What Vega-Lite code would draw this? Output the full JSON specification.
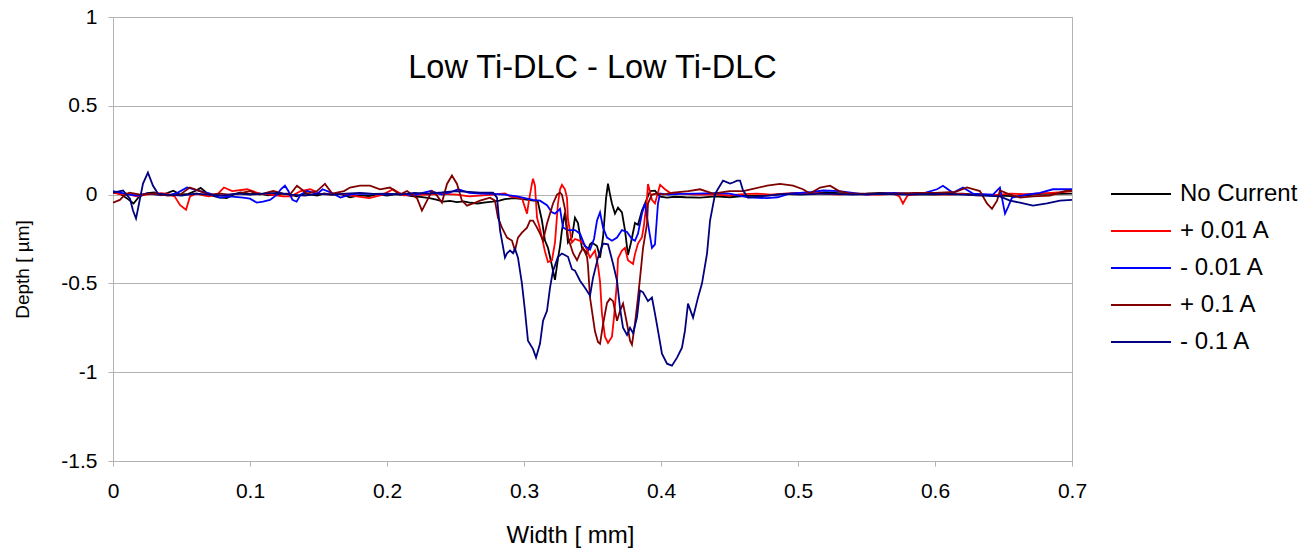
{
"$schema": "https://vega.github.io/schema/vega-lite/v6.json",
"width": 959, "height": 444,
"autosize": "none",
"padding": {"left": 113, "top": 17, "right": 241, "bottom": 92},
"background": "white",
"config": {
  "font": "Liberation Sans",
  "view": {"stroke": "#b3b3b3", "strokeWidth": 1},
  "locale": {"number": {"decimal": ".", "thousands": ",", "grouping": [3], "currency": ["$", ""], "minus": "-"}}
},
"title": {"text": "Low Ti-DLC - Low Ti-DLC", "fontSize": 32.5, "fontWeight": "normal", "font": "Liberation Sans", "color": "black", "anchor": "middle", "offset": -78},
"data": {"values": [
{"s":"No Current","x":0,"y":0.011},{"s":"No Current","x":0.005,"y":0.006},{"s":"No Current","x":0.01,"y":-0.02},{"s":"No Current","x":0.015,"y":-0.05},{"s":"No Current","x":0.019,"y":-0.012},{"s":"No Current","x":0.025,"y":0.008},{"s":"No Current","x":0.03,"y":0.012},{"s":"No Current","x":0.035,"y":-0.004},{"s":"No Current","x":0.04,"y":0.01},{"s":"No Current","x":0.044,"y":0.022},{"s":"No Current","x":0.049,"y":0.0},{"s":"No Current","x":0.055,"y":0.004},{"s":"No Current","x":0.06,"y":0.02},{"s":"No Current","x":0.064,"y":0.038},{"s":"No Current","x":0.068,"y":0.012},{"s":"No Current","x":0.073,"y":-0.008},{"s":"No Current","x":0.077,"y":-0.016},{"s":"No Current","x":0.083,"y":-0.02},{"s":"No Current","x":0.088,"y":0.0},{"s":"No Current","x":0.093,"y":0.012},{"s":"No Current","x":0.1,"y":0.002},{"s":"No Current","x":0.107,"y":0.007},{"s":"No Current","x":0.113,"y":-0.004},{"s":"No Current","x":0.12,"y":0.003},{"s":"No Current","x":0.127,"y":0.006},{"s":"No Current","x":0.134,"y":-0.01},{"s":"No Current","x":0.14,"y":0.005},{"s":"No Current","x":0.149,"y":-0.006},{"s":"No Current","x":0.154,"y":0.006},{"s":"No Current","x":0.16,"y":0.0},{"s":"No Current","x":0.166,"y":0.004},{"s":"No Current","x":0.173,"y":-0.015},{"s":"No Current","x":0.18,"y":-0.004},{"s":"No Current","x":0.187,"y":-0.008},{"s":"No Current","x":0.193,"y":0.002},{"s":"No Current","x":0.2,"y":-0.006},{"s":"No Current","x":0.207,"y":0.003},{"s":"No Current","x":0.212,"y":0.0},{"s":"No Current","x":0.218,"y":-0.008},{"s":"No Current","x":0.223,"y":-0.012},{"s":"No Current","x":0.231,"y":-0.02},{"s":"No Current","x":0.236,"y":-0.028},{"s":"No Current","x":0.241,"y":-0.04},{"s":"No Current","x":0.246,"y":-0.035},{"s":"No Current","x":0.251,"y":-0.042},{"s":"No Current","x":0.256,"y":-0.038},{"s":"No Current","x":0.261,"y":-0.046},{"s":"No Current","x":0.266,"y":-0.05},{"s":"No Current","x":0.272,"y":-0.044},{"s":"No Current","x":0.277,"y":-0.04},{"s":"No Current","x":0.282,"y":-0.034},{"s":"No Current","x":0.286,"y":-0.026},{"s":"No Current","x":0.292,"y":-0.02},{"s":"No Current","x":0.296,"y":-0.022},{"s":"No Current","x":0.299,"y":-0.026},{"s":"No Current","x":0.303,"y":-0.03},{"s":"No Current","x":0.307,"y":-0.034},{"s":"No Current","x":0.31,"y":-0.036},{"s":"No Current","x":0.3131,"y":-0.146},{"s":"No Current","x":0.3153,"y":-0.259},{"s":"No Current","x":0.3175,"y":-0.3},{"s":"No Current","x":0.3204,"y":-0.4},{"s":"No Current","x":0.3226,"y":-0.48},{"s":"No Current","x":0.3248,"y":-0.36},{"s":"No Current","x":0.3263,"y":-0.29},{"s":"No Current","x":0.3277,"y":-0.2},{"s":"No Current","x":0.3299,"y":-0.1},{"s":"No Current","x":0.3321,"y":-0.27},{"s":"No Current","x":0.335,"y":-0.24},{"s":"No Current","x":0.3372,"y":-0.13},{"s":"No Current","x":0.3394,"y":-0.16},{"s":"No Current","x":0.3423,"y":-0.3},{"s":"No Current","x":0.346,"y":-0.33},{"s":"No Current","x":0.3482,"y":-0.28},{"s":"No Current","x":0.3496,"y":-0.27},{"s":"No Current","x":0.3533,"y":-0.29},{"s":"No Current","x":0.3555,"y":-0.355},{"s":"No Current","x":0.3577,"y":-0.24},{"s":"No Current","x":0.3599,"y":-0.02},{"s":"No Current","x":0.3613,"y":0.062},{"s":"No Current","x":0.3628,"y":0.0},{"s":"No Current","x":0.3642,"y":-0.05},{"s":"No Current","x":0.3664,"y":-0.107},{"s":"No Current","x":0.3686,"y":-0.073},{"s":"No Current","x":0.3715,"y":-0.1},{"s":"No Current","x":0.3737,"y":-0.2},{"s":"No Current","x":0.3759,"y":-0.34},{"s":"No Current","x":0.3781,"y":-0.27},{"s":"No Current","x":0.381,"y":-0.16},{"s":"No Current","x":0.3832,"y":-0.17},{"s":"No Current","x":0.3861,"y":-0.09},{"s":"No Current","x":0.3883,"y":-0.05},{"s":"No Current","x":0.392,"y":0.02},{"s":"No Current","x":0.3956,"y":0.022},{"s":"No Current","x":0.3993,"y":-0.012},{"s":"No Current","x":0.4044,"y":-0.017},{"s":"No Current","x":0.41,"y":-0.012},{"s":"No Current","x":0.418,"y":-0.015},{"s":"No Current","x":0.4285,"y":-0.017},{"s":"No Current","x":0.44,"y":-0.01},{"s":"No Current","x":0.45,"y":-0.015},{"s":"No Current","x":0.46,"y":-0.008},{"s":"No Current","x":0.4774,"y":-0.006},{"s":"No Current","x":0.49,"y":0.004},{"s":"No Current","x":0.5015,"y":0.01},{"s":"No Current","x":0.51,"y":0.006},{"s":"No Current","x":0.52,"y":0.012},{"s":"No Current","x":0.53,"y":0.008},{"s":"No Current","x":0.54,"y":0.004},{"s":"No Current","x":0.55,"y":0.006},{"s":"No Current","x":0.56,"y":0.01},{"s":"No Current","x":0.5745,"y":0.006},{"s":"No Current","x":0.585,"y":0.002},{"s":"No Current","x":0.6,"y":0.0},{"s":"No Current","x":0.61,"y":0.004},{"s":"No Current","x":0.62,"y":0.005},{"s":"No Current","x":0.63,"y":0.0},{"s":"No Current","x":0.6474,"y":-0.006},{"s":"No Current","x":0.66,"y":-0.01},{"s":"No Current","x":0.67,"y":-0.002},{"s":"No Current","x":0.68,"y":0.005},{"s":"No Current","x":0.69,"y":0.004},{"s":"No Current","x":0.7,"y":0.006},

{"s":"+ 0.01 A","x":0,"y":0.011},{"s":"+ 0.01 A","x":0.006,"y":0.0},{"s":"+ 0.01 A","x":0.01,"y":0.006},{"s":"+ 0.01 A","x":0.017,"y":-0.01},{"s":"+ 0.01 A","x":0.024,"y":0.0},{"s":"+ 0.01 A","x":0.03,"y":0.006},{"s":"+ 0.01 A","x":0.035,"y":0.008},{"s":"+ 0.01 A","x":0.04,"y":0.004},{"s":"+ 0.01 A","x":0.045,"y":-0.01},{"s":"+ 0.01 A","x":0.049,"y":-0.06},{"s":"+ 0.01 A","x":0.0533,"y":-0.085},{"s":"+ 0.01 A","x":0.0562,"y":-0.01},{"s":"+ 0.01 A","x":0.061,"y":0.006},{"s":"+ 0.01 A","x":0.066,"y":-0.005},{"s":"+ 0.01 A","x":0.07,"y":-0.01},{"s":"+ 0.01 A","x":0.076,"y":0.0},{"s":"+ 0.01 A","x":0.081,"y":0.04},{"s":"+ 0.01 A","x":0.087,"y":0.02},{"s":"+ 0.01 A","x":0.098,"y":0.03},{"s":"+ 0.01 A","x":0.107,"y":0.006},{"s":"+ 0.01 A","x":0.115,"y":0.0},{"s":"+ 0.01 A","x":0.124,"y":-0.01},{"s":"+ 0.01 A","x":0.13,"y":-0.01},{"s":"+ 0.01 A","x":0.137,"y":0.02},{"s":"+ 0.01 A","x":0.144,"y":0.03},{"s":"+ 0.01 A","x":0.151,"y":0.006},{"s":"+ 0.01 A","x":0.16,"y":0.0},{"s":"+ 0.01 A","x":0.166,"y":0.004},{"s":"+ 0.01 A","x":0.178,"y":-0.01},{"s":"+ 0.01 A","x":0.187,"y":-0.02},{"s":"+ 0.01 A","x":0.197,"y":0.0},{"s":"+ 0.01 A","x":0.2044,"y":0.03},{"s":"+ 0.01 A","x":0.212,"y":-0.004},{"s":"+ 0.01 A","x":0.222,"y":-0.002},{"s":"+ 0.01 A","x":0.231,"y":0.0},{"s":"+ 0.01 A","x":0.239,"y":0.006},{"s":"+ 0.01 A","x":0.251,"y":0.0},{"s":"+ 0.01 A","x":0.26,"y":-0.01},{"s":"+ 0.01 A","x":0.27,"y":-0.004},{"s":"+ 0.01 A","x":0.2774,"y":0.0},{"s":"+ 0.01 A","x":0.2861,"y":0.006},{"s":"+ 0.01 A","x":0.2898,"y":-0.01},{"s":"+ 0.01 A","x":0.2949,"y":-0.017},{"s":"+ 0.01 A","x":0.2985,"y":-0.02},{"s":"+ 0.01 A","x":0.3022,"y":-0.107},{"s":"+ 0.01 A","x":0.3036,"y":-0.034},{"s":"+ 0.01 A","x":0.3058,"y":0.062},{"s":"+ 0.01 A","x":0.3066,"y":0.09},{"s":"+ 0.01 A","x":0.308,"y":0.05},{"s":"+ 0.01 A","x":0.3095,"y":-0.13},{"s":"+ 0.01 A","x":0.3109,"y":-0.17},{"s":"+ 0.01 A","x":0.3131,"y":-0.24},{"s":"+ 0.01 A","x":0.3153,"y":-0.32},{"s":"+ 0.01 A","x":0.3175,"y":-0.38},{"s":"+ 0.01 A","x":0.3204,"y":-0.37},{"s":"+ 0.01 A","x":0.3226,"y":-0.27},{"s":"+ 0.01 A","x":0.3248,"y":-0.05},{"s":"+ 0.01 A","x":0.3263,"y":0.03},{"s":"+ 0.01 A","x":0.3277,"y":0.055},{"s":"+ 0.01 A","x":0.3299,"y":0.03},{"s":"+ 0.01 A","x":0.3314,"y":-0.02},{"s":"+ 0.01 A","x":0.3321,"y":-0.14},{"s":"+ 0.01 A","x":0.335,"y":-0.27},{"s":"+ 0.01 A","x":0.3372,"y":-0.25},{"s":"+ 0.01 A","x":0.3409,"y":-0.26},{"s":"+ 0.01 A","x":0.3445,"y":-0.285},{"s":"+ 0.01 A","x":0.3482,"y":-0.355},{"s":"+ 0.01 A","x":0.3518,"y":-0.315},{"s":"+ 0.01 A","x":0.354,"y":-0.4},{"s":"+ 0.01 A","x":0.3555,"y":-0.49},{"s":"+ 0.01 A","x":0.3569,"y":-0.67},{"s":"+ 0.01 A","x":0.3591,"y":-0.8},{"s":"+ 0.01 A","x":0.3613,"y":-0.835},{"s":"+ 0.01 A","x":0.3642,"y":-0.8},{"s":"+ 0.01 A","x":0.3657,"y":-0.69},{"s":"+ 0.01 A","x":0.3679,"y":-0.49},{"s":"+ 0.01 A","x":0.3686,"y":-0.36},{"s":"+ 0.01 A","x":0.3715,"y":-0.315},{"s":"+ 0.01 A","x":0.3737,"y":-0.3},{"s":"+ 0.01 A","x":0.3759,"y":-0.37},{"s":"+ 0.01 A","x":0.3796,"y":-0.39},{"s":"+ 0.01 A","x":0.381,"y":-0.335},{"s":"+ 0.01 A","x":0.3832,"y":-0.276},{"s":"+ 0.01 A","x":0.3861,"y":-0.24},{"s":"+ 0.01 A","x":0.3876,"y":-0.17},{"s":"+ 0.01 A","x":0.3898,"y":-0.02},{"s":"+ 0.01 A","x":0.3905,"y":0.06},{"s":"+ 0.01 A","x":0.3934,"y":-0.03},{"s":"+ 0.01 A","x":0.3956,"y":-0.05},{"s":"+ 0.01 A","x":0.3993,"y":0.055},{"s":"+ 0.01 A","x":0.4029,"y":0.03},{"s":"+ 0.01 A","x":0.4066,"y":0.01},{"s":"+ 0.01 A","x":0.414,"y":0.006},{"s":"+ 0.01 A","x":0.425,"y":0.0},{"s":"+ 0.01 A","x":0.44,"y":0.0},{"s":"+ 0.01 A","x":0.45,"y":-0.005},{"s":"+ 0.01 A","x":0.46,"y":0.003},{"s":"+ 0.01 A","x":0.47,"y":0.006},{"s":"+ 0.01 A","x":0.48,"y":0.0},{"s":"+ 0.01 A","x":0.49,"y":0.005},{"s":"+ 0.01 A","x":0.5,"y":0.008},{"s":"+ 0.01 A","x":0.51,"y":0.01},{"s":"+ 0.01 A","x":0.52,"y":0.004},{"s":"+ 0.01 A","x":0.53,"y":0.0},{"s":"+ 0.01 A","x":0.54,"y":0.005},{"s":"+ 0.01 A","x":0.55,"y":0.0},{"s":"+ 0.01 A","x":0.56,"y":0.0},{"s":"+ 0.01 A","x":0.57,"y":0.004},{"s":"+ 0.01 A","x":0.574,"y":-0.01},{"s":"+ 0.01 A","x":0.5766,"y":-0.05},{"s":"+ 0.01 A","x":0.58,"y":-0.004},{"s":"+ 0.01 A","x":0.59,"y":0.004},{"s":"+ 0.01 A","x":0.6,"y":0.002},{"s":"+ 0.01 A","x":0.61,"y":0.0},{"s":"+ 0.01 A","x":0.62,"y":0.004},{"s":"+ 0.01 A","x":0.63,"y":-0.004},{"s":"+ 0.01 A","x":0.645,"y":-0.002},{"s":"+ 0.01 A","x":0.655,"y":0.006},{"s":"+ 0.01 A","x":0.665,"y":0.002},{"s":"+ 0.01 A","x":0.675,"y":0.006},{"s":"+ 0.01 A","x":0.685,"y":0.01},{"s":"+ 0.01 A","x":0.695,"y":0.015},{"s":"+ 0.01 A","x":0.7,"y":0.02},

{"s":"- 0.01 A","x":0,"y":0.02},{"s":"- 0.01 A","x":0.006,"y":0.01},{"s":"- 0.01 A","x":0.012,"y":0.0},{"s":"- 0.01 A","x":0.018,"y":-0.005},{"s":"- 0.01 A","x":0.025,"y":0.006},{"s":"- 0.01 A","x":0.032,"y":0.0},{"s":"- 0.01 A","x":0.04,"y":-0.004},{"s":"- 0.01 A","x":0.047,"y":0.01},{"s":"- 0.01 A","x":0.054,"y":0.04},{"s":"- 0.01 A","x":0.0635,"y":0.02},{"s":"- 0.01 A","x":0.0708,"y":0.006},{"s":"- 0.01 A","x":0.078,"y":-0.017},{"s":"- 0.01 A","x":0.0854,"y":-0.01},{"s":"- 0.01 A","x":0.0949,"y":-0.017},{"s":"- 0.01 A","x":0.1,"y":-0.023},{"s":"- 0.01 A","x":0.105,"y":-0.045},{"s":"- 0.01 A","x":0.1095,"y":-0.04},{"s":"- 0.01 A","x":0.1146,"y":-0.03},{"s":"- 0.01 A","x":0.1197,"y":0.0},{"s":"- 0.01 A","x":0.1225,"y":0.03},{"s":"- 0.01 A","x":0.1255,"y":0.05},{"s":"- 0.01 A","x":0.128,"y":0.02},{"s":"- 0.01 A","x":0.131,"y":-0.03},{"s":"- 0.01 A","x":0.134,"y":-0.04},{"s":"- 0.01 A","x":0.137,"y":0.0},{"s":"- 0.01 A","x":0.1416,"y":0.02},{"s":"- 0.01 A","x":0.149,"y":0.004},{"s":"- 0.01 A","x":0.153,"y":0.03},{"s":"- 0.01 A","x":0.16,"y":0.008},{"s":"- 0.01 A","x":0.166,"y":-0.017},{"s":"- 0.01 A","x":0.173,"y":0.0},{"s":"- 0.01 A","x":0.18,"y":0.006},{"s":"- 0.01 A","x":0.19,"y":0.004},{"s":"- 0.01 A","x":0.2,"y":0.0},{"s":"- 0.01 A","x":0.21,"y":0.006},{"s":"- 0.01 A","x":0.22,"y":-0.004},{"s":"- 0.01 A","x":0.226,"y":0.01},{"s":"- 0.01 A","x":0.232,"y":0.02},{"s":"- 0.01 A","x":0.24,"y":0.0},{"s":"- 0.01 A","x":0.246,"y":0.012},{"s":"- 0.01 A","x":0.252,"y":0.03},{"s":"- 0.01 A","x":0.26,"y":0.01},{"s":"- 0.01 A","x":0.268,"y":0.006},{"s":"- 0.01 A","x":0.2774,"y":0.004},{"s":"- 0.01 A","x":0.2861,"y":0.0},{"s":"- 0.01 A","x":0.2949,"y":-0.01},{"s":"- 0.01 A","x":0.3007,"y":-0.02},{"s":"- 0.01 A","x":0.3066,"y":-0.03},{"s":"- 0.01 A","x":0.3117,"y":-0.034},{"s":"- 0.01 A","x":0.3168,"y":-0.06},{"s":"- 0.01 A","x":0.3204,"y":-0.1},{"s":"- 0.01 A","x":0.3226,"y":-0.107},{"s":"- 0.01 A","x":0.3263,"y":-0.08},{"s":"- 0.01 A","x":0.3285,"y":-0.186},{"s":"- 0.01 A","x":0.3321,"y":-0.2},{"s":"- 0.01 A","x":0.3372,"y":-0.2},{"s":"- 0.01 A","x":0.3409,"y":-0.22},{"s":"- 0.01 A","x":0.3445,"y":-0.29},{"s":"- 0.01 A","x":0.3482,"y":-0.31},{"s":"- 0.01 A","x":0.3511,"y":-0.25},{"s":"- 0.01 A","x":0.3533,"y":-0.146},{"s":"- 0.01 A","x":0.3555,"y":-0.1},{"s":"- 0.01 A","x":0.3577,"y":-0.186},{"s":"- 0.01 A","x":0.3606,"y":-0.242},{"s":"- 0.01 A","x":0.3642,"y":-0.26},{"s":"- 0.01 A","x":0.3679,"y":-0.242},{"s":"- 0.01 A","x":0.3715,"y":-0.2},{"s":"- 0.01 A","x":0.3752,"y":-0.21},{"s":"- 0.01 A","x":0.3788,"y":-0.25},{"s":"- 0.01 A","x":0.381,"y":-0.26},{"s":"- 0.01 A","x":0.3832,"y":-0.22},{"s":"- 0.01 A","x":0.3861,"y":-0.107},{"s":"- 0.01 A","x":0.3883,"y":-0.05},{"s":"- 0.01 A","x":0.3905,"y":-0.163},{"s":"- 0.01 A","x":0.3934,"y":-0.3},{"s":"- 0.01 A","x":0.3956,"y":-0.28},{"s":"- 0.01 A","x":0.3978,"y":-0.05},{"s":"- 0.01 A","x":0.3993,"y":0.006},{"s":"- 0.01 A","x":0.405,"y":0.0},{"s":"- 0.01 A","x":0.414,"y":0.004},{"s":"- 0.01 A","x":0.425,"y":0.006},{"s":"- 0.01 A","x":0.44,"y":0.008},{"s":"- 0.01 A","x":0.45,"y":0.005},{"s":"- 0.01 A","x":0.4635,"y":-0.015},{"s":"- 0.01 A","x":0.4774,"y":-0.02},{"s":"- 0.01 A","x":0.485,"y":-0.015},{"s":"- 0.01 A","x":0.494,"y":0.005},{"s":"- 0.01 A","x":0.5015,"y":0.01},{"s":"- 0.01 A","x":0.51,"y":0.015},{"s":"- 0.01 A","x":0.5186,"y":0.023},{"s":"- 0.01 A","x":0.53,"y":0.02},{"s":"- 0.01 A","x":0.54,"y":0.01},{"s":"- 0.01 A","x":0.55,"y":0.0},{"s":"- 0.01 A","x":0.56,"y":0.006},{"s":"- 0.01 A","x":0.57,"y":0.01},{"s":"- 0.01 A","x":0.58,"y":0.006},{"s":"- 0.01 A","x":0.59,"y":0.004},{"s":"- 0.01 A","x":0.6015,"y":0.03},{"s":"- 0.01 A","x":0.6058,"y":0.05},{"s":"- 0.01 A","x":0.6131,"y":0.01},{"s":"- 0.01 A","x":0.6204,"y":0.04},{"s":"- 0.01 A","x":0.6277,"y":0.006},{"s":"- 0.01 A","x":0.6423,"y":0.0},{"s":"- 0.01 A","x":0.6474,"y":0.04},{"s":"- 0.01 A","x":0.6511,"y":-0.107},{"s":"- 0.01 A","x":0.6533,"y":-0.07},{"s":"- 0.01 A","x":0.6562,"y":-0.017},{"s":"- 0.01 A","x":0.6672,"y":0.0},{"s":"- 0.01 A","x":0.6766,"y":0.01},{"s":"- 0.01 A","x":0.6861,"y":0.03},{"s":"- 0.01 A","x":0.6964,"y":0.03},{"s":"- 0.01 A","x":0.7,"y":0.03},

{"s":"+ 0.1 A","x":0,"y":-0.045},{"s":"+ 0.1 A","x":0.005,"y":-0.03},{"s":"+ 0.1 A","x":0.008,"y":-0.006},{"s":"+ 0.1 A","x":0.012,"y":0.011},{"s":"+ 0.1 A","x":0.02,"y":0.0},{"s":"+ 0.1 A","x":0.027,"y":0.006},{"s":"+ 0.1 A","x":0.034,"y":0.0},{"s":"+ 0.1 A","x":0.041,"y":-0.006},{"s":"+ 0.1 A","x":0.049,"y":0.0},{"s":"+ 0.1 A","x":0.056,"y":0.04},{"s":"+ 0.1 A","x":0.0635,"y":0.02},{"s":"+ 0.1 A","x":0.07,"y":0.0},{"s":"+ 0.1 A","x":0.078,"y":0.006},{"s":"+ 0.1 A","x":0.085,"y":0.0},{"s":"+ 0.1 A","x":0.092,"y":0.006},{"s":"+ 0.1 A","x":0.1,"y":0.02},{"s":"+ 0.1 A","x":0.107,"y":0.0},{"s":"+ 0.1 A","x":0.117,"y":0.02},{"s":"+ 0.1 A","x":0.124,"y":0.006},{"s":"+ 0.1 A","x":0.1292,"y":0.0},{"s":"+ 0.1 A","x":0.1343,"y":0.05},{"s":"+ 0.1 A","x":0.1416,"y":0.006},{"s":"+ 0.1 A","x":0.1489,"y":0.02},{"s":"+ 0.1 A","x":0.1547,"y":0.06},{"s":"+ 0.1 A","x":0.16,"y":0.006},{"s":"+ 0.1 A","x":0.1686,"y":0.02},{"s":"+ 0.1 A","x":0.173,"y":0.04},{"s":"+ 0.1 A","x":0.1803,"y":0.05},{"s":"+ 0.1 A","x":0.1876,"y":0.05},{"s":"+ 0.1 A","x":0.1949,"y":0.03},{"s":"+ 0.1 A","x":0.2022,"y":0.04},{"s":"+ 0.1 A","x":0.2095,"y":0.0},{"s":"+ 0.1 A","x":0.2146,"y":0.02},{"s":"+ 0.1 A","x":0.2219,"y":-0.02},{"s":"+ 0.1 A","x":0.2255,"y":-0.09},{"s":"+ 0.1 A","x":0.2292,"y":-0.034},{"s":"+ 0.1 A","x":0.2328,"y":0.02},{"s":"+ 0.1 A","x":0.2365,"y":-0.006},{"s":"+ 0.1 A","x":0.2401,"y":-0.045},{"s":"+ 0.1 A","x":0.2438,"y":0.06},{"s":"+ 0.1 A","x":0.2474,"y":0.107},{"s":"+ 0.1 A","x":0.2511,"y":0.06},{"s":"+ 0.1 A","x":0.2547,"y":-0.034},{"s":"+ 0.1 A","x":0.2584,"y":-0.062},{"s":"+ 0.1 A","x":0.2628,"y":-0.05},{"s":"+ 0.1 A","x":0.2679,"y":-0.034},{"s":"+ 0.1 A","x":0.2752,"y":-0.017},{"s":"+ 0.1 A","x":0.2788,"y":-0.034},{"s":"+ 0.1 A","x":0.281,"y":-0.13},{"s":"+ 0.1 A","x":0.2839,"y":-0.186},{"s":"+ 0.1 A","x":0.2876,"y":-0.242},{"s":"+ 0.1 A","x":0.2912,"y":-0.259},{"s":"+ 0.1 A","x":0.2934,"y":-0.315},{"s":"+ 0.1 A","x":0.2956,"y":-0.242},{"s":"+ 0.1 A","x":0.2985,"y":-0.214},{"s":"+ 0.1 A","x":0.3022,"y":-0.186},{"s":"+ 0.1 A","x":0.3044,"y":-0.146},{"s":"+ 0.1 A","x":0.3066,"y":-0.146},{"s":"+ 0.1 A","x":0.3095,"y":-0.186},{"s":"+ 0.1 A","x":0.3117,"y":-0.22},{"s":"+ 0.1 A","x":0.3139,"y":-0.259},{"s":"+ 0.1 A","x":0.3168,"y":-0.163},{"s":"+ 0.1 A","x":0.319,"y":-0.107},{"s":"+ 0.1 A","x":0.3212,"y":-0.05},{"s":"+ 0.1 A","x":0.3241,"y":0.0},{"s":"+ 0.1 A","x":0.3263,"y":0.011},{"s":"+ 0.1 A","x":0.3277,"y":0.0},{"s":"+ 0.1 A","x":0.3299,"y":-0.08},{"s":"+ 0.1 A","x":0.3321,"y":-0.24},{"s":"+ 0.1 A","x":0.3358,"y":-0.33},{"s":"+ 0.1 A","x":0.3387,"y":-0.37},{"s":"+ 0.1 A","x":0.3409,"y":-0.33},{"s":"+ 0.1 A","x":0.3431,"y":-0.3},{"s":"+ 0.1 A","x":0.346,"y":-0.35},{"s":"+ 0.1 A","x":0.3467,"y":-0.4},{"s":"+ 0.1 A","x":0.3482,"y":-0.58},{"s":"+ 0.1 A","x":0.3518,"y":-0.77},{"s":"+ 0.1 A","x":0.354,"y":-0.83},{"s":"+ 0.1 A","x":0.3555,"y":-0.84},{"s":"+ 0.1 A","x":0.3577,"y":-0.73},{"s":"+ 0.1 A","x":0.3606,"y":-0.61},{"s":"+ 0.1 A","x":0.3628,"y":-0.586},{"s":"+ 0.1 A","x":0.365,"y":-0.6},{"s":"+ 0.1 A","x":0.3679,"y":-0.71},{"s":"+ 0.1 A","x":0.3701,"y":-0.654},{"s":"+ 0.1 A","x":0.3723,"y":-0.614},{"s":"+ 0.1 A","x":0.3752,"y":-0.727},{"s":"+ 0.1 A","x":0.3774,"y":-0.823},{"s":"+ 0.1 A","x":0.3788,"y":-0.845},{"s":"+ 0.1 A","x":0.381,"y":-0.727},{"s":"+ 0.1 A","x":0.3832,"y":-0.58},{"s":"+ 0.1 A","x":0.3847,"y":-0.47},{"s":"+ 0.1 A","x":0.3869,"y":-0.3},{"s":"+ 0.1 A","x":0.3898,"y":-0.163},{"s":"+ 0.1 A","x":0.3905,"y":-0.05},{"s":"+ 0.1 A","x":0.3934,"y":0.0},{"s":"+ 0.1 A","x":0.3971,"y":0.006},{"s":"+ 0.1 A","x":0.4015,"y":0.0},{"s":"+ 0.1 A","x":0.4088,"y":0.011},{"s":"+ 0.1 A","x":0.42,"y":0.02},{"s":"+ 0.1 A","x":0.4285,"y":0.03},{"s":"+ 0.1 A","x":0.438,"y":0.006},{"s":"+ 0.1 A","x":0.45,"y":0.02},{"s":"+ 0.1 A","x":0.46,"y":0.02},{"s":"+ 0.1 A","x":0.4774,"y":0.05},{"s":"+ 0.1 A","x":0.4869,"y":0.06},{"s":"+ 0.1 A","x":0.4964,"y":0.05},{"s":"+ 0.1 A","x":0.5036,"y":0.03},{"s":"+ 0.1 A","x":0.5088,"y":0.006},{"s":"+ 0.1 A","x":0.5161,"y":0.04},{"s":"+ 0.1 A","x":0.5234,"y":0.05},{"s":"+ 0.1 A","x":0.53,"y":0.02},{"s":"+ 0.1 A","x":0.538,"y":0.006},{"s":"+ 0.1 A","x":0.55,"y":0.006},{"s":"+ 0.1 A","x":0.5547,"y":0.006},{"s":"+ 0.1 A","x":0.5693,"y":0.006},{"s":"+ 0.1 A","x":0.585,"y":0.01},{"s":"+ 0.1 A","x":0.6,"y":0.01},{"s":"+ 0.1 A","x":0.615,"y":0.015},{"s":"+ 0.1 A","x":0.6234,"y":0.04},{"s":"+ 0.1 A","x":0.6328,"y":0.02},{"s":"+ 0.1 A","x":0.6379,"y":-0.05},{"s":"+ 0.1 A","x":0.6416,"y":-0.08},{"s":"+ 0.1 A","x":0.6453,"y":-0.034},{"s":"+ 0.1 A","x":0.6474,"y":0.023},{"s":"+ 0.1 A","x":0.6547,"y":0.0},{"s":"+ 0.1 A","x":0.662,"y":-0.017},{"s":"+ 0.1 A","x":0.6715,"y":-0.01},{"s":"+ 0.1 A","x":0.6839,"y":-0.006},{"s":"+ 0.1 A","x":0.6964,"y":0.023},{"s":"+ 0.1 A","x":0.7,"y":0.02},

{"s":"- 0.1 A","x":0,"y":0.011},{"s":"- 0.1 A","x":0.0073,"y":0.023},{"s":"- 0.1 A","x":0.0124,"y":-0.023},{"s":"- 0.1 A","x":0.0146,"y":-0.09},{"s":"- 0.1 A","x":0.0168,"y":-0.135},{"s":"- 0.1 A","x":0.019,"y":-0.05},{"s":"- 0.1 A","x":0.0219,"y":0.062},{"s":"- 0.1 A","x":0.0255,"y":0.124},{"s":"- 0.1 A","x":0.0292,"y":0.05},{"s":"- 0.1 A","x":0.0328,"y":0.006},{"s":"- 0.1 A","x":0.04,"y":0.0},{"s":"- 0.1 A","x":0.05,"y":-0.006},{"s":"- 0.1 A","x":0.06,"y":0.006},{"s":"- 0.1 A","x":0.07,"y":0.0},{"s":"- 0.1 A","x":0.08,"y":-0.006},{"s":"- 0.1 A","x":0.09,"y":0.006},{"s":"- 0.1 A","x":0.1,"y":0.0},{"s":"- 0.1 A","x":0.11,"y":0.006},{"s":"- 0.1 A","x":0.12,"y":0.01},{"s":"- 0.1 A","x":0.13,"y":0.0},{"s":"- 0.1 A","x":0.14,"y":-0.006},{"s":"- 0.1 A","x":0.15,"y":0.004},{"s":"- 0.1 A","x":0.16,"y":0.0},{"s":"- 0.1 A","x":0.17,"y":0.006},{"s":"- 0.1 A","x":0.18,"y":0.01},{"s":"- 0.1 A","x":0.19,"y":0.004},{"s":"- 0.1 A","x":0.2,"y":0.006},{"s":"- 0.1 A","x":0.21,"y":0.0},{"s":"- 0.1 A","x":0.22,"y":0.01},{"s":"- 0.1 A","x":0.23,"y":0.006},{"s":"- 0.1 A","x":0.24,"y":0.012},{"s":"- 0.1 A","x":0.25,"y":0.02},{"s":"- 0.1 A","x":0.26,"y":0.015},{"s":"- 0.1 A","x":0.2679,"y":0.011},{"s":"- 0.1 A","x":0.2774,"y":0.011},{"s":"- 0.1 A","x":0.2803,"y":-0.017},{"s":"- 0.1 A","x":0.2825,"y":-0.2},{"s":"- 0.1 A","x":0.2861,"y":-0.355},{"s":"- 0.1 A","x":0.2876,"y":-0.33},{"s":"- 0.1 A","x":0.2898,"y":-0.315},{"s":"- 0.1 A","x":0.292,"y":-0.33},{"s":"- 0.1 A","x":0.2934,"y":-0.304},{"s":"- 0.1 A","x":0.2956,"y":-0.355},{"s":"- 0.1 A","x":0.2985,"y":-0.501},{"s":"- 0.1 A","x":0.3007,"y":-0.654},{"s":"- 0.1 A","x":0.3029,"y":-0.823},{"s":"- 0.1 A","x":0.3066,"y":-0.87},{"s":"- 0.1 A","x":0.3088,"y":-0.918},{"s":"- 0.1 A","x":0.3117,"y":-0.839},{"s":"- 0.1 A","x":0.3139,"y":-0.71},{"s":"- 0.1 A","x":0.3168,"y":-0.654},{"s":"- 0.1 A","x":0.319,"y":-0.524},{"s":"- 0.1 A","x":0.3212,"y":-0.428},{"s":"- 0.1 A","x":0.3226,"y":-0.4},{"s":"- 0.1 A","x":0.3248,"y":-0.35},{"s":"- 0.1 A","x":0.3277,"y":-0.332},{"s":"- 0.1 A","x":0.3321,"y":-0.35},{"s":"- 0.1 A","x":0.335,"y":-0.42},{"s":"- 0.1 A","x":0.3372,"y":-0.428},{"s":"- 0.1 A","x":0.3409,"y":-0.485},{"s":"- 0.1 A","x":0.3445,"y":-0.524},{"s":"- 0.1 A","x":0.3482,"y":-0.569},{"s":"- 0.1 A","x":0.3504,"y":-0.468},{"s":"- 0.1 A","x":0.354,"y":-0.355},{"s":"- 0.1 A","x":0.3577,"y":-0.276},{"s":"- 0.1 A","x":0.3613,"y":-0.28},{"s":"- 0.1 A","x":0.365,"y":-0.389},{"s":"- 0.1 A","x":0.3679,"y":-0.485},{"s":"- 0.1 A","x":0.3701,"y":-0.64},{"s":"- 0.1 A","x":0.3723,"y":-0.75},{"s":"- 0.1 A","x":0.3752,"y":-0.79},{"s":"- 0.1 A","x":0.3774,"y":-0.75},{"s":"- 0.1 A","x":0.3796,"y":-0.78},{"s":"- 0.1 A","x":0.3825,"y":-0.69},{"s":"- 0.1 A","x":0.3847,"y":-0.54},{"s":"- 0.1 A","x":0.3869,"y":-0.55},{"s":"- 0.1 A","x":0.3905,"y":-0.6},{"s":"- 0.1 A","x":0.3934,"y":-0.58},{"s":"- 0.1 A","x":0.3956,"y":-0.67},{"s":"- 0.1 A","x":0.3978,"y":-0.766},{"s":"- 0.1 A","x":0.4007,"y":-0.896},{"s":"- 0.1 A","x":0.4044,"y":-0.952},{"s":"- 0.1 A","x":0.408,"y":-0.963},{"s":"- 0.1 A","x":0.4117,"y":-0.918},{"s":"- 0.1 A","x":0.4153,"y":-0.862},{"s":"- 0.1 A","x":0.4175,"y":-0.766},{"s":"- 0.1 A","x":0.4197,"y":-0.614},{"s":"- 0.1 A","x":0.4234,"y":-0.693},{"s":"- 0.1 A","x":0.427,"y":-0.58},{"s":"- 0.1 A","x":0.4299,"y":-0.501},{"s":"- 0.1 A","x":0.4336,"y":-0.332},{"s":"- 0.1 A","x":0.4358,"y":-0.146},{"s":"- 0.1 A","x":0.4394,"y":0.0},{"s":"- 0.1 A","x":0.4409,"y":0.023},{"s":"- 0.1 A","x":0.4453,"y":0.079},{"s":"- 0.1 A","x":0.4504,"y":0.062},{"s":"- 0.1 A","x":0.4526,"y":0.068},{"s":"- 0.1 A","x":0.4555,"y":0.079},{"s":"- 0.1 A","x":0.4577,"y":0.079},{"s":"- 0.1 A","x":0.4599,"y":0.023},{"s":"- 0.1 A","x":0.4635,"y":-0.017},{"s":"- 0.1 A","x":0.4774,"y":-0.006},{"s":"- 0.1 A","x":0.49,"y":0.004},{"s":"- 0.1 A","x":0.5015,"y":0.0},{"s":"- 0.1 A","x":0.52,"y":0.006},{"s":"- 0.1 A","x":0.54,"y":0.0},{"s":"- 0.1 A","x":0.56,"y":0.004},{"s":"- 0.1 A","x":0.58,"y":0.0},{"s":"- 0.1 A","x":0.6,"y":0.004},{"s":"- 0.1 A","x":0.62,"y":0.0},{"s":"- 0.1 A","x":0.635,"y":-0.006},{"s":"- 0.1 A","x":0.6474,"y":-0.01},{"s":"- 0.1 A","x":0.6547,"y":-0.034},{"s":"- 0.1 A","x":0.662,"y":-0.045},{"s":"- 0.1 A","x":0.6715,"y":-0.062},{"s":"- 0.1 A","x":0.6818,"y":-0.05},{"s":"- 0.1 A","x":0.6912,"y":-0.034},{"s":"- 0.1 A","x":0.7,"y":-0.03}
]},
"mark": {"type": "line", "strokeWidth": 1.8, "clip": true},
"encoding": {
  "x": {"field": "x", "type": "quantitative",
        "scale": {"domain": [0, 0.7], "nice": false, "zero": false},
        "axis": {"values": [0, 0.1, 0.2, 0.3, 0.4, 0.5, 0.6, 0.7], "format": ".1~f", "title": "Width [ mm]", "grid": false, "labelFlush": false,
                 "domainColor": "#b3b3b3", "tickColor": "#b3b3b3", "tickSize": 5, "labelFontSize": 21, "labelColor": "black", "labelPadding": 14,
                 "titleFontSize": 24, "titleFontWeight": "normal", "titleColor": "black", "titlePadding": 22, "titleX": 457, "labelFont": "Liberation Sans", "titleFont": "Liberation Sans"}},
  "y": {"field": "y", "type": "quantitative",
        "scale": {"domain": [-1.5, 1], "nice": false, "zero": false},
        "axis": {"values": [-1.5, -1, -0.5, 0, 0.5, 1], "format": "~g", "title": "Depth [ µm]", "grid": true, "gridColor": "#b3b3b3",
                 "domainColor": "#b3b3b3", "tickColor": "#b3b3b3", "tickSize": 5, "labelFontSize": 21, "labelColor": "black", "labelPadding": 11,
                 "titleFontSize": 19, "titleFontWeight": "normal", "titleColor": "black", "titlePadding": 28, "titleY": 252, "labelFont": "Liberation Sans", "titleFont": "Liberation Sans"}},
  "color": {"field": "s", "type": "nominal",
            "scale": {"domain": ["No Current", "+ 0.01 A", "- 0.01 A", "+ 0.1 A", "- 0.1 A"], "range": ["#000000", "#ff0000", "#0000ff", "#800000", "#000080"]},
            "legend": {"title": null, "orient": "none", "legendX": 1012, "legendY": 161, "padding": 0, "symbolType": "M-2,0L2,0", "symbolSize": 900, "symbolStrokeWidth": 1.8,
                       "labelFontSize": 24, "labelColor": "black", "labelFont": "Liberation Sans", "labelOffset": 23, "rowPadding": 9}}
}
}
